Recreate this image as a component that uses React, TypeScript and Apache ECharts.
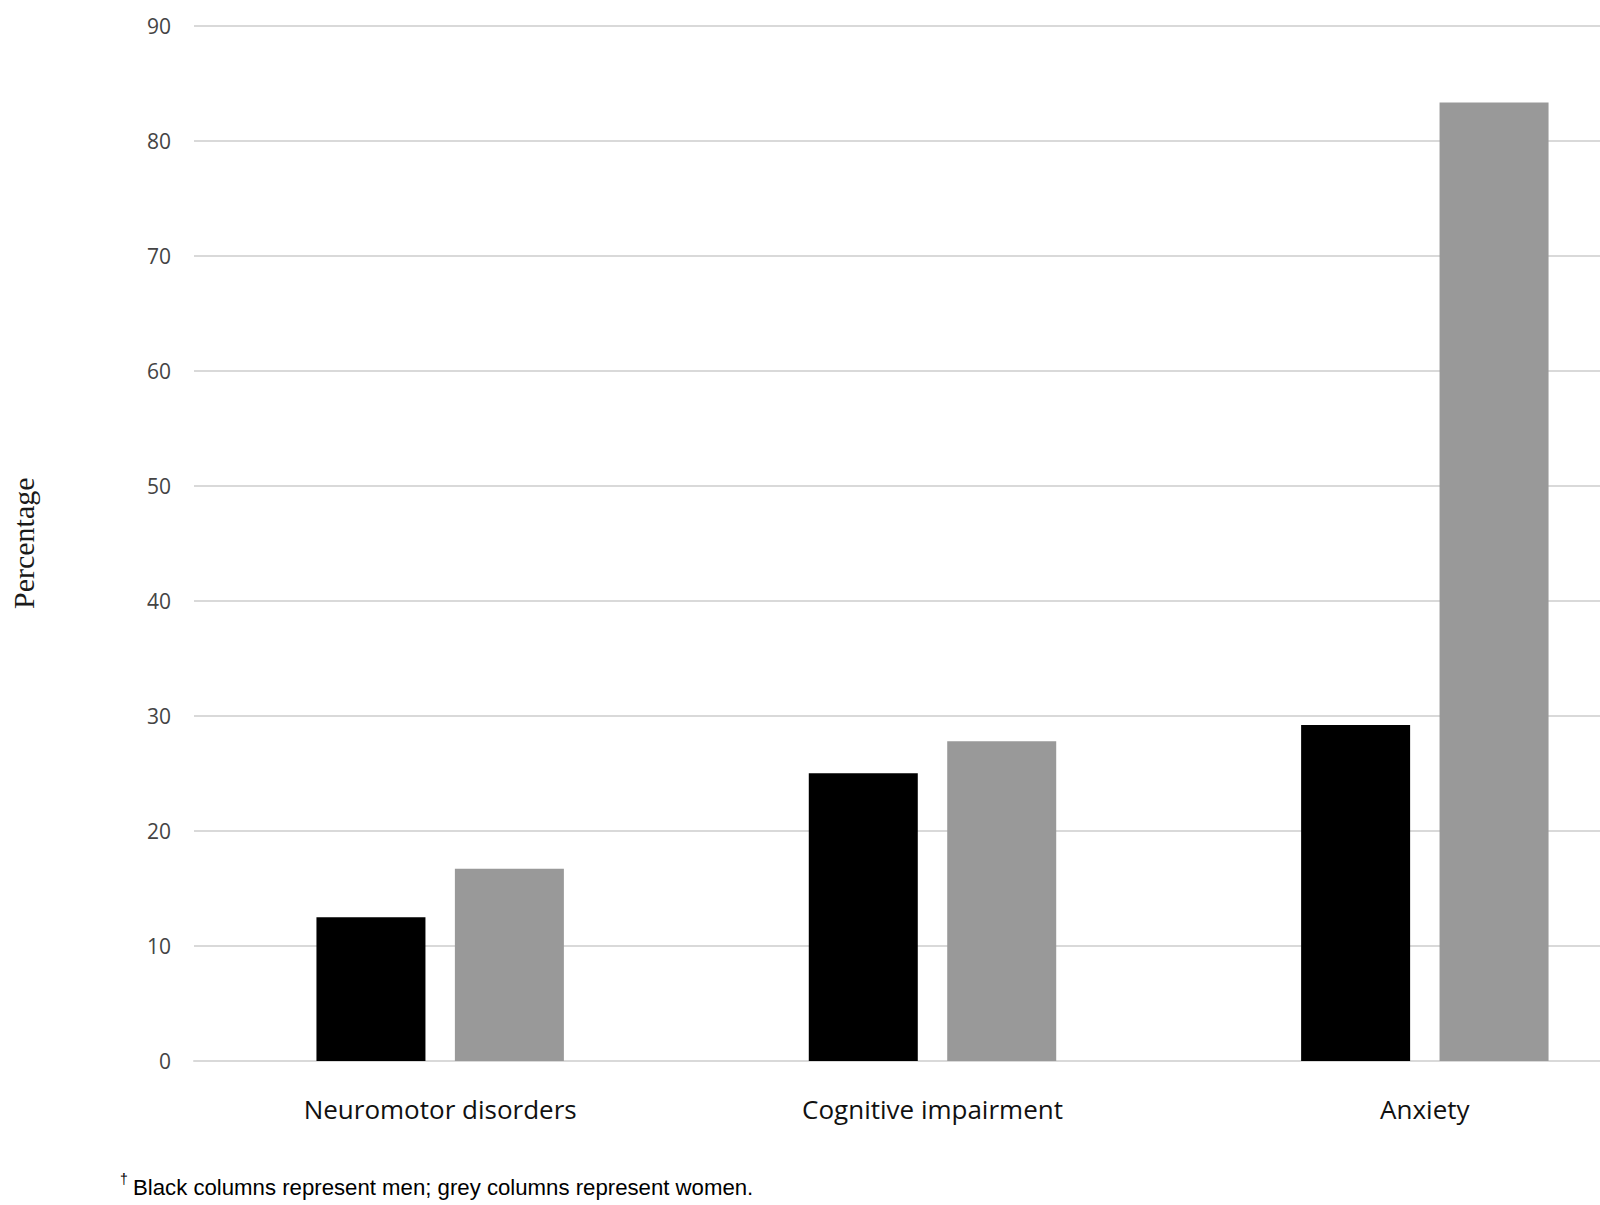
import React, { useEffect, useRef } from "react";
import * as echarts from "echarts";

const categories = ["Neuromotor disorders", "Cognitive impairment", "Anxiety"];
const menValues = [12.5, 25.0, 29.2];
const womenValues = [16.7, 27.8, 83.3];
const yTicks = { min: 0, max: 90, interval: 10 };
const yAxisName = "Percentage";
const footnote = "Black columns represent men; grey columns represent women.";

export default function App() {
  const ref = useRef<HTMLDivElement>(null);
  useEffect(() => {
    if (!ref.current) return;
    const chart = echarts.init(ref.current, null, { renderer: "svg" });
    chart.setOption({
      animation: false,
      backgroundColor: "#ffffff",
      grid: { left: 192, top: 25.5, width: 1479, height: 1035.5, containLabel: false },
      xAxis: {
        type: "category",
        data: categories,
        axisLine: { show: true, lineStyle: { color: "#d9d9d9", width: 2 } },
        axisTick: { show: false },
        axisLabel: {
          fontSize: 26,
          fontWeight: 500,
          color: "#111111",
          margin: 35,
          fontFamily: "Open Sans",
        },
      },
      yAxis: {
        type: "value",
        min: yTicks.min,
        max: yTicks.max,
        interval: yTicks.interval,
        name: yAxisName,
        nameLocation: "middle",
        nameGap: 156,
        nameTextStyle: { fontSize: 30, color: "#1a1a1a", fontFamily: "Liberation Serif" },
        axisLine: { show: false },
        axisTick: { show: false },
        axisLabel: { fontSize: 21, color: "#444444", margin: 23, fontFamily: "Open Sans" },
        splitLine: { show: true, lineStyle: { color: "#d9d9d9", width: 2 } },
      },
      series: [
        {
          name: "Men",
          type: "bar",
          data: menValues,
          barWidth: 109,
          barGap: "27%",
          itemStyle: { color: "#000000" },
        },
        {
          name: "Women",
          type: "bar",
          data: womenValues,
          barWidth: 109,
          barGap: "27%",
          itemStyle: { color: "#999999" },
        },
      ],
      graphic: [
        {
          type: "text",
          left: 120,
          top: 1172,
          style: { text: "†", fontSize: 14, fill: "#000", fontFamily: "Liberation Sans" },
        },
        {
          type: "text",
          left: 133,
          top: 1176,
          style: { text: footnote, fontSize: 22.2, fill: "#000", fontFamily: "Liberation Sans" },
        },
      ],
    });
    return () => chart.dispose();
  }, []);
  return (
    <div
      ref={ref}
      style={{ position: "fixed", left: 0, top: 0, width: 1700, height: 1205, background: "#fff" }}
    />
  );
}
